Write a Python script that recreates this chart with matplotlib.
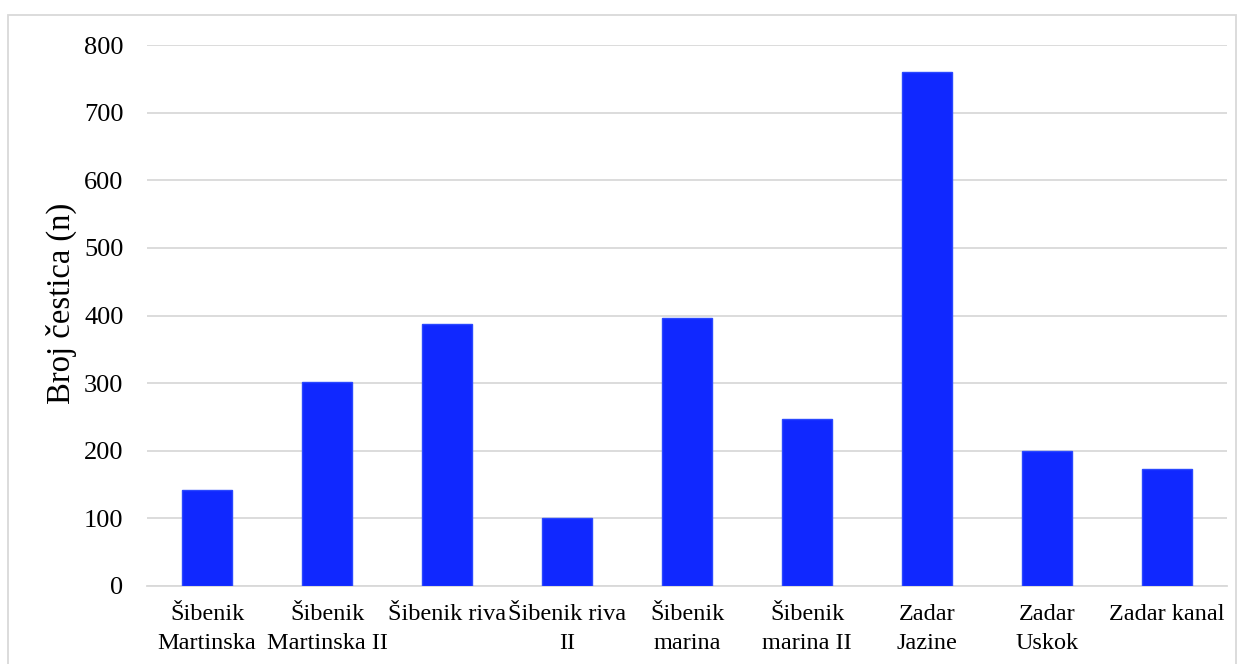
import matplotlib.pyplot as plt
from matplotlib.patches import Rectangle

plt.rcParams["font.family"] = ["Liberation Serif", "DejaVu Serif"]

locations = [
    "Šibenik\nMartinska",
    "Šibenik\nMartinska II",
    "Šibenik riva",
    "Šibenik riva\nII",
    "Šibenik\nmarina",
    "Šibenik\nmarina II",
    "Zadar\nJazine",
    "Zadar\nUskok",
    "Zadar kanal",
]
counts = [142, 302, 388, 100, 396, 247, 760, 199, 173]
y_ticks = [0, 100, 200, 300, 400, 500, 600, 700, 800]

fig = plt.figure(figsize=(12.44, 6.64), dpi=100)
ax = fig.add_axes([147 / 1244, 1 - 586 / 664, 1080 / 1244, 541 / 664])

x = range(len(locations))
ax.bar(x, counts, width=0.417, color="#1028FF", edgecolor="#2A48FF", linewidth=1, zorder=3)

ax.set_xlim(-0.5, len(locations) - 0.5)
ax.set_ylim(0, 800)
ax.set_yticks(y_ticks)
ax.set_xticks(list(x))
ax.set_xticklabels(locations, fontsize=17.5, linespacing=1.5)
ax.tick_params(axis="y", length=0, pad=17, labelsize=19)
ax.tick_params(axis="x", length=0, pad=13)
ax.grid(axis="y", color="#D9D9D9", linewidth=1.3, zorder=0)
ax.set_axisbelow(True)
ax.set_ylabel("Broj čestica (n)", fontsize=23.5, labelpad=5)
ax.yaxis.label.set_y(0.522)

for s in ["top", "right", "left"]:
    ax.spines[s].set_visible(False)
ax.spines["bottom"].set_color("#D9D9D9")
ax.spines["bottom"].set_linewidth(1.3)

fig.patches.append(
    Rectangle((8 / 1244, -0.01), 1228 / 1244, 1 - 15 / 664 + 0.01,
              transform=fig.transFigure, fill=False, edgecolor="#D9D9D9", linewidth=1.3)
)

fig.savefig("out.png", dpi=100)
